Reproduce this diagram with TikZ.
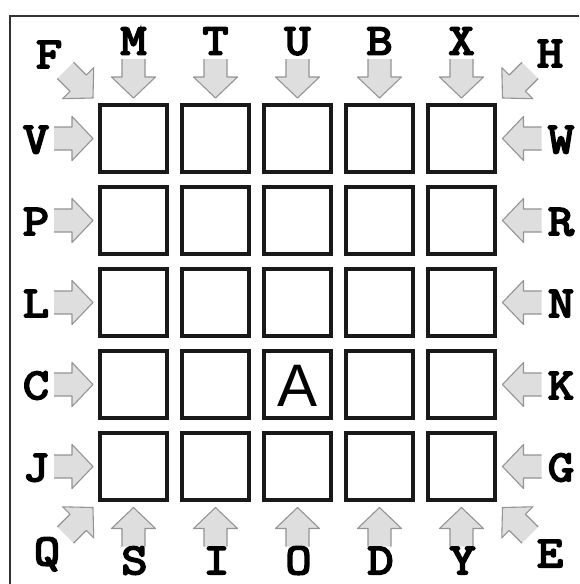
\documentclass[tikz,border=0pt]{standalone}
\usepackage{fontspec}
\newfontfamily\lblfont{Latin Modern Mono}[FakeBold=4.5,FakeStretch=1.15]
\newfontfamily\cellfont{Liberation Sans}
\usetikzlibrary{positioning}

\tikzset{
  cell/.style={draw=black!90, line width=3.6pt, minimum size=67.4pt, inner sep=0pt},
  lbl/.style={font=\lblfont\fontsize{44}{44}\selectfont, inner sep=0pt, anchor=base},
  arrfill/.style={fill=black!13},
  arredge/.style={draw=black!42, line width=1.1pt, line join=round},
  blockarr/.pic={
    \fill[arrfill] (-39,11.5) -- (-21,11.5) -- (-21,22) -- (0,0) -- (-21,-22) -- (-21,-11.5) -- (-39,-11.5) -- cycle;
    \draw[arredge] (-39,11.5) -- (-21,11.5) -- (-21,22) -- (0,0) -- (-21,-22) -- (-21,-11.5) -- (-39,-11.5);
  }
}

\begin{document}
\begin{tikzpicture}[x=1pt,y=-1pt]
  \useasboundingbox (0,0) rectangle (579,584);
  \draw[black!80,line width=1.6pt] (579,16) -- (10,16) -- (10,584);
  % the 5x5 board
  \foreach \c in {1,...,5}
    \foreach \r in {1,...,5}
      \node[cell] (cell-\c-\r) at ({133.5+82*(\c-1)},{138.5+82*(\r-1)}) {};
  \node[font=\cellfont\fontsize{60}{60}\selectfont,inner sep=0pt] (letterA) at ([yshift=-1pt]cell-3-4) {A};
  % arrows into the board
  \foreach \c in {1,...,5} {
    \pic[rotate=-90] at ([yshift=5pt]cell-\c-1.north) {blockarr};
    \pic[rotate=90] at ([yshift=-5.5pt]cell-\c-5.south) {blockarr};
  }
  \foreach \r in {1,...,5} {
    \pic at ([xshift=-5pt]cell-1-\r.west) {blockarr};
    \pic[rotate=180] at ([xshift=5.5pt]cell-5-\r.east) {blockarr};
  }
  \pic[rotate=-45] at ([shift={(-5pt,5pt)}]cell-1-1.north west) {blockarr};
  \pic[rotate=-135] at ([shift={(5.5pt,5pt)}]cell-5-1.north east) {blockarr};
  \pic[rotate=45] at ([shift={(-5pt,-5.5pt)}]cell-1-5.south west) {blockarr};
  \pic[rotate=135] at ([shift={(5.5pt,-5.5pt)}]cell-5-5.south east) {blockarr};
  % labels
  \foreach \t [count=\i from 0] in {M,T,U,B,X}
    \node[lbl] (lbl\t) at ({133.5+82*\i},54.5) {\t};
  \foreach \t [count=\i from 0] in {S,I,O,D,Y}
    \node[lbl] (lbl\t) at ({134.5+82*\i},574) {\t};
  \foreach \t [count=\i from 0] in {V,P,L,C,J}
    \node[lbl] (lbl\t) at (36,{153+82*\i}) {\t};
  \foreach \t [count=\i from 0] in {W,R,N,K,G}
    \node[lbl] (lbl\t) at (561,{153+82*\i}) {\t};
  \node[lbl] (lblF) at (49,68) {F};
  \node[lbl] (lblH) at (550,67) {H};
  \node[lbl] (lblQ) at (47,565) {Q};
  \node[lbl] (lblE) at (550,567) {E};
\end{tikzpicture}
\end{document}
